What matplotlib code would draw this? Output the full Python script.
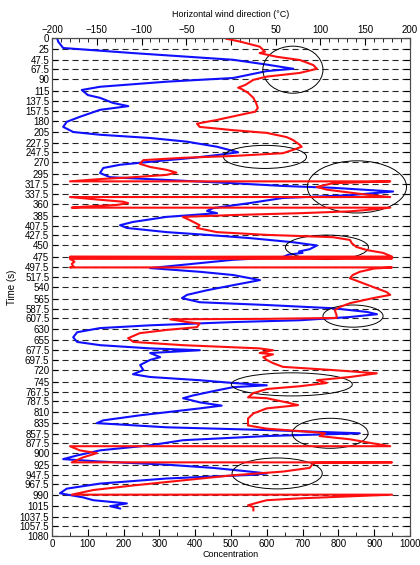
import matplotlib
matplotlib.use('Agg')
import matplotlib.pyplot as plt
from matplotlib.patches import Ellipse
from matplotlib.ticker import MultipleLocator

plt.rcParams['font.family'] = ['Liberation Sans', 'DejaVu Sans']

# Time ticks (s) as labelled on the y axis
time_ticks = [0, 25, 47.5, 67.5, 90, 115, 137.5, 157.5, 180, 205, 227.5, 247.5, 270, 295,
              317.5, 337.5, 360, 385, 407.5, 427.5, 450, 475, 497.5, 517.5, 540, 565, 587.5,
              607.5, 630, 655, 677.5, 697.5, 720, 745, 767.5, 787.5, 810, 835, 857.5, 877.5,
              900, 925, 947.5, 967.5, 990, 1015, 1037.5, 1057.5, 1080]
time_labels = ['%g' % t for t in time_ticks]

# Concentration trace (blue, bottom axis)
conc_t = [0, 8, 22, 33, 47.5, 58, 67, 72, 87, 95, 106, 113, 124, 130, 141, 148, 156, 171, 182,
          193, 204, 210, 217, 225, 236, 248, 254, 260, 268, 275, 282, 293, 302, 308, 315, 321,
          325, 333, 341, 347, 358, 369, 375, 380, 388, 399, 406, 412, 421, 427, 434, 443, 450,
          458, 463, 466, 470, 475, 481, 492, 499, 507, 514, 525, 536, 547, 557, 564, 573, 579,
          586, 594, 599, 605, 612, 616, 623, 629, 638, 649, 659, 666, 673, 677, 683, 692, 698,
          709, 720, 729, 735, 742, 748, 753, 757, 764, 775, 781, 790, 797, 803, 818, 829, 835,
          844, 850, 857, 863, 872, 883, 894, 905, 913, 918, 925, 932, 939, 944, 947, 950, 955,
          966, 977, 987, 996, 1002, 1009, 1015, 1020]
conc_v = [14, 17, 31, 226, 506, 600, 674, 600, 506, 320, 134, 83, 100, 134, 170, 213, 134, 78, 41,
          31, 59, 134, 274, 377, 461, 520, 461, 394, 282, 190, 143, 134, 162, 320, 506, 645,
          785, 953, 832, 645, 553, 450, 433, 461, 320, 226, 190, 209, 320, 433, 553, 674, 740,
          720, 690, 700, 660, 645, 506, 366, 274, 413, 506, 581, 506, 433, 377, 363, 413, 600,
          785, 880, 908, 832, 693, 506, 274, 134, 70, 59, 70, 134, 274, 413, 274, 302, 274,
          246, 255, 226, 274, 413, 506, 600, 506, 461, 394, 366, 413, 474, 413, 246, 143, 125,
          320, 600, 860, 600, 366, 274, 134, 70, 31, 130, 320, 450, 540, 600, 560, 470, 320,
          134, 41, 22, 87, 115, 209, 162, 190]

# Wind direction trace (red, top axis); wraps between -180 and 180
wind_t = [2, 8, 19, 30, 33, 41, 48, 59, 67, 76, 84, 91, 102, 108, 111, 119, 130, 141, 152, 160,
          167, 178, 186, 193, 200, 206, 215, 221, 232, 236, 243, 250, 256, 260, 265, 273, 280,
          286, 292, 297, 302, 306, 311, 311, 315, 323, 329, 336, 340, 345, 345, 351, 355, 358,
          362, 366, 368, 368, 373, 376, 380, 384, 388, 395, 406, 412, 421, 427, 432, 438, 445,
          453, 460, 466, 474, 474.5, 476, 477, 478, 479, 485, 490, 496, 497.5, 497.5, 500, 507,
          514, 521, 529, 540, 551, 557, 564, 575, 583, 590, 601, 607, 609, 610, 616, 619, 627,
          633, 640, 651, 659, 666, 673, 677, 683, 686, 692, 698, 705, 713, 720, 727, 735, 742,
          748, 755, 761, 770, 779, 781, 790, 796, 803, 814, 825, 840, 847, 855, 857, 863, 870,
          879, 885, 885, 894, 900, 909, 920, 920, 921, 932, 940, 948, 959, 970, 980, 990, 990,
          998, 1002, 1006, 1013, 1017, 1024]
wind_v = [-5, 10, 32, 38, 32, 51, 77, 92, 96, 77, 40, 25, 16, 8, 12, 19, 25, 28, 30, 27,
          10, -16, -38, -35, 2, 40, 62, 69, 77, 79, 69, 58, 2, -54, -98, -102, -90,
          -72, -61, -72, -109, -146, -180, 178, 114, 96, 107, 136, 152, 178, -180, -146, -121, -115,
          -127, -165, -178, 178, 152, 133, 77, 2, -54, -46, -35, -38, -16, 40, 114, 133, 135,
          140, 152, 170, 180, -180, 180, -180, 180, -180, -175, -178, -176, -180, 180, 160, 144,
          136, 133, 144, 159, 174, 178, 159, 133, 122, 116, 118, 118, 40, -68, -49, -35, -38,
          -72, -102, -115, -109, -54, 32, 47, 32, 47, 36, 40, 47, 58, 114, 163, 133, 96,
          107, 77, 40, 25, 19, 40, 62, 75, 40, 25, 19, 19, 40, 96, 105, 99, 133,
          159, 178, -180, -169, -150, -165, -178, 180, 92, 88, 58, 2, -54, -109, -154, -178, 180,
          77, 40, 32, 19, 25, 25]

# Highlighted regions (centre concentration, centre time, width, height)
ell_cx = [673, 595, 852, 768, 841, 670, 777, 629]
ell_cy = [69, 258, 323, 454, 603, 751, 857, 944]
ell_w = [168, 232, 277, 232, 168, 338, 212, 252]
ell_h = [102, 50, 113, 53, 48, 50, 65, 67]

fig = plt.figure(figsize=(4.2, 5.65), dpi=100)
ax = fig.add_axes([0.124, 0.051, 0.852, 0.882])

for t in time_ticks:
    ax.axhline(t, color='0.15', lw=0.8, ls=(0, (5.5, 3.5)), zorder=1)

ax.plot(conc_v, conc_t, color='#1010ff', lw=1.5, zorder=3)
for cx, cy, w, h in zip(ell_cx, ell_cy, ell_w, ell_h):
    ax.add_patch(Ellipse((cx, cy), w, h, fill=False, ec='k', lw=0.7, zorder=4))

ax.set_xlim(0, 1000)
ax.set_ylim(1080, 0)
ax.set_yticks(time_ticks)
ax.set_yticklabels(time_labels)
ax.xaxis.set_major_locator(MultipleLocator(100))
ax.xaxis.set_minor_locator(MultipleLocator(50))
ax.tick_params(axis='both', which='both', direction='in', labelsize=7, pad=2)
ax.tick_params(axis='y', right=True, length=4)
ax.tick_params(axis='x', which='major', length=5)
ax.tick_params(axis='x', which='minor', length=3)
ax.set_xlabel('Concentration', fontsize=6.5, labelpad=1)
ax.set_ylabel('Time (s)', fontsize=7, labelpad=2)

ax2 = ax.twiny()
ax2.plot(wind_v, wind_t, color='#ff1010', lw=1.5)
ax2.set_xlim(-200, 200)
ax2.set_ylim(1080, 0)
ax2.xaxis.set_major_locator(MultipleLocator(50))
ax2.xaxis.set_minor_locator(MultipleLocator(10))
ax2.tick_params(axis='x', which='both', direction='in', labelsize=7, pad=2)
ax2.tick_params(axis='x', which='major', length=5)
ax2.tick_params(axis='x', which='minor', length=3)
ax2.set_xlabel('Horizontal wind direction (°C)', fontsize=6.5, labelpad=6)

for a in (ax, ax2):
    for s in a.spines.values():
        s.set_color('0.3')
        s.set_linewidth(0.8)

fig.savefig('out.png', dpi=100)
